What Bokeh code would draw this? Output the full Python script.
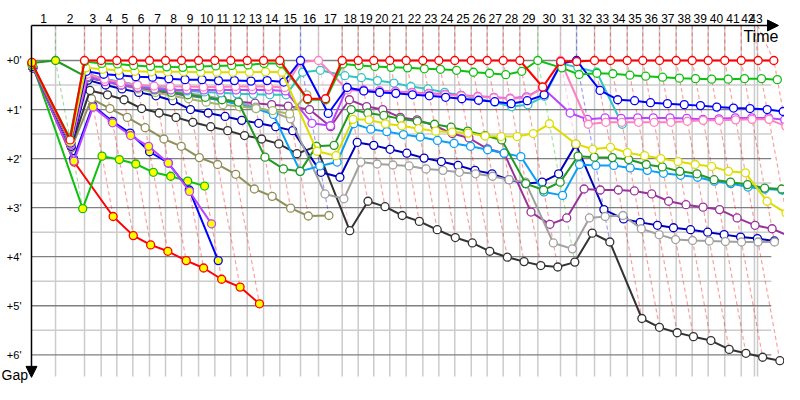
from bokeh.plotting import figure
from bokeh.models import Range1d, Arrow, NormalHead
from bokeh.embed import file_html
from bokeh.resources import INLINE
from bokeh.core.properties import value

# ---------------- data ----------------
# leader crossing time (minutes) at end of lap 0..43
leader_times = [0.00, 2.67, 5.89, 7.74, 9.48, 11.26, 13.11, 14.89, 16.67, 18.56,
                20.37, 22.14, 23.97, 25.78, 27.59, 29.89, 31.89, 34.52, 36.30, 38.03,
                39.81, 41.63, 43.48, 45.26, 47.03, 48.86, 50.63, 52.41, 54.26, 56.26,
                58.78, 60.56, 62.56, 64.33, 66.19, 67.92, 69.78, 71.63, 73.41, 75.19,
                77.03, 78.86, 80.74, 82.48]
# time marks drawn on the time axis for laps 1..43
lap_marks = [2.67, 5.89, 7.74, 9.48, 11.26, 13.11, 14.89, 16.67, 18.56, 20.37,
             22.14, 23.97, 25.78, 27.59, 29.89, 31.89, 34.52, 36.30, 38.03, 39.81,
             41.63, 43.48, 45.26, 47.03, 48.86, 50.63, 52.41, 54.26, 56.26, 58.78,
             60.56, 62.56, 64.33, 66.19, 67.92, 69.78, 71.63, 73.41, 75.19, 77.03,
             78.86, 80.33, 80.67]
lap_labels = [str(n) for n in range(1, 44)]
gap_ticks = [0, 1, 2, 3, 4, 5, 6]
gap_labels = ["+0'", "+1'", "+2'", "+3'", "+4'", "+5'", "+6'"]

# gaps (minutes) per lap, starting at lap 0
red_gaps = [0.04, 1.62,
            0.0, 0.0, 0.0, 0.0, 0.0, 0.0, 0.0, 0.0,
            0.0, 0.0, 0.0, 0.0, 0.0, 0.78, 0.78, 0.0, 0.0, 0.0,
            0.0, 0.0, 0.0, 0.0, 0.0, 0.0, 0.0, 0.0, 0.0, 0.54,
            0.02, 0.02, 0.0, 0.0, 0.0, 0.0, 0.0, 0.0, 0.0, 0.0,
            0.0, 0.0, 0.0, 0.0]
green_gaps = [0.08, 1.58,
              0.02, 0.06, 0.07, 0.10, 0.12, 0.13, 0.14, 0.12,
              0.11, 0.10, 0.09, 0.06, 0.06, 0.80, 0.80, 0.07, 0.10, 0.12,
              0.14, 0.15, 0.17, 0.18, 0.20, 0.24, 0.26, 0.29, 0.22, 0.00,
              0.15, 0.285, 0.26, 0.27, 0.30, 0.32, 0.34, 0.36, 0.37, 0.38,
              0.38, 0.37, 0.37, 0.39]
yellow_gaps = [0.10, 1.66,
               0.15, 0.18, 0.20, 0.22, 0.23, 0.23, 0.23, 0.24,
               0.24, 0.24, 0.24, 0.23, 0.24, 1.85, 1.94, 1.20, 1.21, 1.29,
               1.33, 1.39, 1.44, 1.46, 1.48, 1.54, 1.55, 1.55, 1.49, 1.29,
               1.70, 1.81, 1.77, 1.88, 1.94, 2.00, 2.06, 2.12, 2.16, 2.26,
               2.29, 2.87, 3.11]
blue_gaps = [0.12, 1.68,
             0.22, 0.28, 0.30, 0.33, 0.34, 0.37, 0.39, 0.39,
             0.41, 0.41, 0.42, 0.41, 0.44, 0.00, 1.08, 0.55, 0.62, 0.65,
             0.67, 0.70, 0.72, 0.75, 0.78, 0.81, 0.84, 0.88, 0.82, 0.70,
             0.06, 0.00, 0.61, 0.80, 0.82, 0.86, 0.88, 0.90, 0.92, 0.95,
             0.97, 0.98, 1.00, 1.04]
pink_gaps = [0.14, 1.70,
             0.28, 0.38, 0.45, 0.50, 0.52, 0.53, 0.53, 0.54,
             0.54, 0.53, 0.53, 0.53, 0.55, 0.03, 0.00, 0.60, 0.62, 0.63,
             0.64, 0.66, 0.68, 0.70, 0.72, 0.74, 0.76, 0.78, 0.76, 0.55,
             0.00, 1.30, 1.26, 1.26, 1.26, 1.26, 1.26, 1.24, 1.22, 1.22,
             1.21, 1.20, 1.20, 1.34]
violet_gaps = [0.13, 1.72,
               0.33, 0.43, 0.50, 0.55, 0.58, 0.60, 0.60, 0.60,
               0.60, 0.60, 0.60, 0.60, 0.62, 1.28, 1.33, 0.56, 0.60, 0.62,
               0.63, 0.65, 0.67, 0.69, 0.71, 0.73, 0.75, 0.77, 0.74, 0.56,
               1.07, 1.20, 1.17, 1.18, 1.17, 1.17, 1.17, 1.18, 1.20, 1.19,
               1.17, 1.17, 1.17, 1.21]
cyan_gaps = [0.10, 1.70,
             0.28, 0.37, 0.44, 0.50, 0.55, 0.58, 0.62, 0.64,
             0.66, 0.68, 0.69, 0.70, 0.70, 0.24, 0.20, 0.31, 0.35, 0.41,
             0.46, 0.53, 0.58, 0.65, 0.71, 0.78, 0.85, 0.94, 0.90, 0.73,
             0.06, 0.14, 0.24, 1.30]
darkgreen_gaps = [0.05, 0.00,
                  0.35, 0.42, 0.50, 0.55, 0.60, 0.65, 0.70, 0.75,
                  0.80, 0.85, 1.97, 2.21, 2.26, 1.75, 1.73, 1.00, 1.07, 1.12,
                  1.19, 1.24, 1.30, 1.36, 1.44, 1.53, 1.62, 2.51, 2.64, 2.48,
                  1.95, 1.97, 1.98, 2.02, 2.12, 2.17, 2.26, 2.31, 2.43, 2.48,
                  2.53, 2.60, 2.62]
olive_gaps = [0.12, 1.65,
              0.25, 0.40, 0.50, 0.58, 0.65, 0.72, 0.78, 0.85,
              0.90, 0.94, 0.98, 1.02, 1.09, 0.70]
skyblue_gaps = [0.10, 1.70,
                0.30, 0.38, 0.45, 0.52, 0.58, 0.64, 0.70, 0.76,
                0.82, 0.90, 0.98, 1.10, 2.26, 2.15, 2.07, 1.29, 1.40, 1.45,
                1.51, 1.56, 1.63, 1.69, 1.75, 1.82, 1.89, 1.96, 2.68, 2.75,
                2.12, 2.14, 2.14, 2.19, 2.24, 2.30, 2.34, 2.38, 2.46, 2.51,
                2.58, 2.62, 2.64]
gray_gaps = [0.10, 1.70,
             0.30, 0.38, 0.45, 0.50, 0.55, 0.62, 0.67, 0.72,
             0.78, 0.85, 0.95, 1.05, 1.19, 2.72, 2.82, 2.07, 2.11, 2.13,
             2.15, 2.21, 2.24, 2.28, 2.31, 2.36, 2.43, 2.48, 3.72, 3.84,
             3.21, 3.18, 3.16, 3.43, 3.55, 3.65, 3.67, 3.68, 3.69, 3.70,
             3.70, 3.70]
purple_gaps = [0.12, 1.70,
               0.35, 0.42, 0.50, 0.56, 0.62, 0.67, 0.72, 0.76,
               0.80, 0.84, 0.87, 0.90, 0.93, 1.00, 1.35, 0.80, 0.94, 1.00,
               1.16, 1.21, 1.33, 1.49, 1.58, 1.80, 1.89, 3.09, 3.34, 3.21,
               2.62, 2.64, 2.64, 2.66, 2.72, 2.87, 2.94, 2.99, 3.04, 3.21,
               3.36, 3.43, 3.59]
navy_gaps = [0.15, 1.75,
             0.40, 0.50, 0.58, 0.65, 0.72, 0.82, 1.00, 1.07,
             1.14, 1.22, 1.28, 1.35, 1.43, 2.28, 2.38, 1.67, 1.73, 1.81,
             1.89, 1.99, 2.06, 2.14, 2.24, 2.31, 2.43, 2.51, 2.48, 2.31,
             1.71, 3.04, 3.23, 3.30, 3.36, 3.41, 3.45, 3.50, 3.55, 3.60,
             3.63, 3.68]
black_gaps = [0.15, 1.75,
              0.61, 0.70, 0.80, 0.98, 1.07, 1.16, 1.26, 1.35,
              1.43, 1.53, 1.60, 1.70, 1.90, 1.75, 3.47, 2.87, 2.98, 3.16,
              3.28, 3.45, 3.61, 3.72, 3.89, 4.01, 4.10, 4.18, 4.21, 4.11,
              3.52, 3.70, 5.26, 5.44, 5.55, 5.63, 5.71, 5.89, 5.97, 6.05,
              6.12]
khaki_gaps = [0.15, 1.78,
              0.78, 0.98, 1.16, 1.37, 1.60, 1.75, 1.98, 2.12,
              2.32, 2.62, 2.77, 3.01, 3.17, 3.16]
red2_gaps = [0.10, 2.07, 3.18, 3.57, 3.76, 3.89, 4.08, 4.23, 4.46, 4.62, 4.96]
green2_gaps = [0.05, 3.02, 1.95, 2.02, 2.11, 2.28, 2.36, 2.46, 2.56]
blue2_gaps = [0.12, 2.00, 0.92, 1.24, 1.48, 1.86, 2.09, 2.64, 4.08]
violet2_gaps = [0.12, 2.05, 0.95, 1.27, 1.53, 1.75, 2.09, 2.67, 3.33]

# (gaps, colour, marker fill) ; drawn first to last
cars = [
    (red2_gaps, "#ff0000", "#ffff00"),
    (green2_gaps, "#10c010", "#ffff00"),
    (blue2_gaps, "#0000ff", "#ffff00"),
    (violet2_gaps, "#bb44ff", "#ffff00"),
    (khaki_gaps, "#8f8f5a", "white"),
    (black_gaps, "#333333", "white"),
    (navy_gaps, "#0000bb", "white"),
    (purple_gaps, "#993399", "white"),
    (gray_gaps, "#a0a0a0", "white"),
    (skyblue_gaps, "#0aa0f5", "white"),
    (olive_gaps, "#a6b56a", "white"),
    (darkgreen_gaps, "#229922", "white"),
    (cyan_gaps, "#33c4c4", "white"),
    (violet_gaps, "#bb44ff", "white"),
    (pink_gaps, "#ff80c0", "white"),
    (blue_gaps, "#0000ff", "white"),
    (yellow_gaps, "#dddd00", "white"),
    (green_gaps, "#10c010", "white"),
    (red_gaps, "#ff0000", "white"),
]

TOP = -0.714      # time axis position (in gap units)
GRID_BOTTOM = 6.44
GRID_RIGHT = 82.2

p = figure(width=784, height=384, output_backend="svg", toolbar_location=None,
           x_range=Range1d(-3.444, 83.667), y_range=Range1d(6.6055, -1.2232),
           min_border=0, outline_line_color=None)
p.axis.visible = False
p.grid.visible = False
p.background_fill_color = "white"

# grid
n_ticks = len(gap_ticks)
minor = [t + 0.5 for t in gap_ticks[:-1]]
p.segment(x0=[0] * len(minor), y0=minor, x1=[GRID_RIGHT] * len(minor), y1=minor,
          line_color="#cccccc", line_width=1.5)
p.segment(x0=lap_marks, y0=[TOP] * len(lap_marks), x1=lap_marks,
          y1=[GRID_BOTTOM] * len(lap_marks), line_color="#cccccc", line_width=1.5)
p.segment(x0=[0] * n_ticks, y0=gap_ticks, x1=[GRID_RIGHT] * n_ticks, y1=gap_ticks,
          line_color="#808080", line_width=1.3)

# lap lines (dashed) coloured by the lap leader
lx, ly, lc = [], [], []
for k in range(1, len(leader_times)):
    pts = [(g[k], col) for g, col, _ in cars if len(g) > k]
    lead_g, lead_c = min(pts, key=lambda t: t[0])
    max_g = max(t[0] for t in pts)
    t = leader_times[k]
    lx.append([lap_marks[k - 1], t + lead_g, t + max_g])
    ly.append([TOP, lead_g, max_g])
    lc.append(lead_c)
p.multi_line(lx, ly, line_color=lc, line_alpha=0.38, line_width=1.2, line_dash="4 3")

# car traces
for gaps, col, fill in cars:
    xs = [t + g for t, g in zip(leader_times, gaps)]
    fills = [fill] * len(xs)
    fills[0] = "#ffff00"
    if gaps[1] == 0.0:
        fills[1] = "#ffff00"
    p.line(xs, gaps, line_color=col, line_width=2)
    p.scatter(xs, gaps, marker="circle", size=8, line_color=col, line_width=1.3,
              fill_color=fills)

# axes with arrows
p.add_layout(Arrow(end=NormalHead(size=11, fill_color="black", line_color="black"),
                   x_start=0, y_start=TOP, x_end=83.0, y_end=TOP,
                   line_color="black", line_width=1.5))
p.add_layout(Arrow(end=NormalHead(size=11, fill_color="black", line_color="black"),
                   x_start=0, y_start=TOP, x_end=0, y_end=6.46,
                   line_color="black", line_width=1.5))

# lap labels centred in each lap interval
starts = [0.0] + lap_marks[:-1]
mids = [(a + b) / 2 for a, b in zip(starts, lap_marks)]
p.text(x=mids, y=[-0.866] * len(mids), text=lap_labels, text_align="center",
       text_baseline="middle", text_font=value("Liberation Sans"),
       text_font_size=value("12px"), text_color="black")
p.text(x=[-1.11] * n_ticks, y=gap_ticks, text=gap_labels, text_align="right",
       text_baseline="middle", text_font=value("Liberation Sans"),
       text_font_size=value("11px"), text_color="black")
p.text(x=[79.1], y=[-0.66], text=["Time"], text_align="left", text_baseline="top",
       text_font=value("Liberation Sans"), text_font_size=value("16px"),
       text_color="black")
p.text(x=[-3.33], y=[6.58], text=["Gap"], text_align="left", text_baseline="bottom",
       text_font=value("Liberation Sans"), text_font_size=value("14px"),
       text_color="black")

open("out.html", "w").write(file_html(p, INLINE))
